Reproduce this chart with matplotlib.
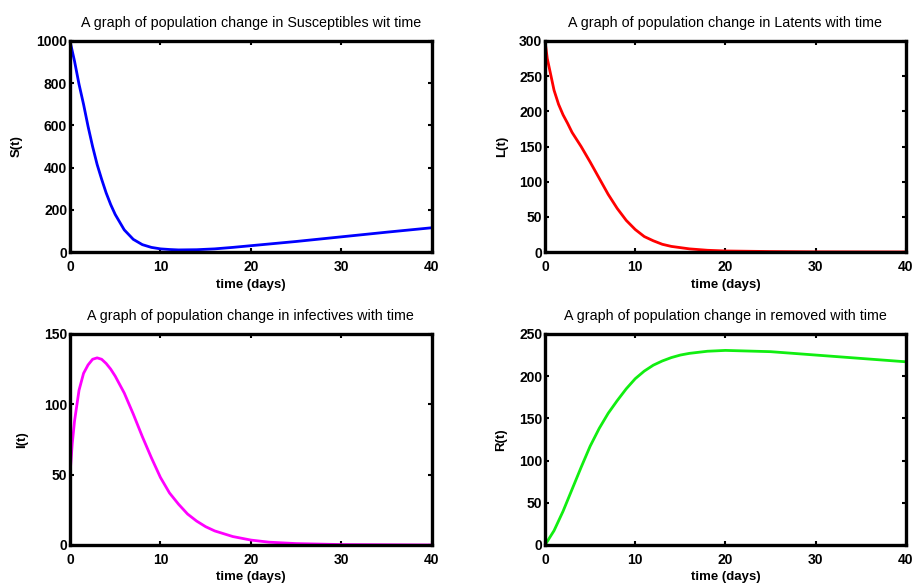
import matplotlib.pyplot as plt

plt.rcParams['font.family'] = ['Liberation Sans', 'DejaVu Sans']

# values
t_s = [0, 0.5, 1, 1.5, 2, 2.5, 3, 3.5, 4, 4.5, 5, 6, 7, 8, 9, 10, 11, 12, 14, 16, 18, 20, 25, 30, 35, 40]
s_vals = [1000, 905, 795, 700, 595, 500, 415, 345, 280, 225, 178, 105, 60, 35, 22, 15, 12, 10, 11, 15, 22, 30, 50, 72, 94, 115]

t_l = [0, 0.25, 0.5, 1, 1.5, 2, 2.5, 3, 4, 5, 6, 7, 8, 9, 10, 11, 12, 13, 14, 16, 18, 20, 25, 30, 40]
l_vals = [300, 275, 260, 230, 210, 195, 183, 170, 150, 128, 105, 82, 62, 45, 32, 22, 16, 11, 8, 4.5, 2.5, 1.5, 0.7, 0.3, 0.1]

t_i = [0, 0.25, 0.5, 1, 1.5, 2, 2.5, 3, 3.5, 4, 4.5, 5, 6, 7, 8, 9, 10, 11, 12, 13, 14, 15, 16, 18, 20, 22, 25, 30, 40]
i_vals = [50, 72, 88, 110, 122, 128, 132, 133, 132, 129, 125, 120, 108, 93, 77, 62, 48, 37, 29, 22, 17, 13, 10, 6, 3.5, 2, 1, 0.3, 0]

t_r = [0, 1, 2, 3, 4, 5, 6, 7, 8, 9, 10, 11, 12, 13, 14, 15, 16, 18, 20, 25, 30, 35, 40]
r_vals = [0, 17, 40, 66, 92, 117, 138, 156, 171, 185, 197, 206, 213, 218, 222, 225, 227, 229.5, 230.5, 229, 225, 221, 217]

panels = [
    (t_s, s_vals, 'blue', 'S(t)', 'A graph of population change in Susceptibles wit time', 1000, range(0, 1001, 200), -0.130),
    (t_l, l_vals, 'red', 'L(t)', 'A graph of population change in Latents with time', 300, range(0, 301, 50), -0.102),
    (t_i, i_vals, 'magenta', 'I(t)', 'A graph of population change in infectives with time', 150, range(0, 151, 50), -0.116),
    (t_r, r_vals, '#11ee11', 'R(t)', 'A graph of population change in removed with time', 250, range(0, 251, 50), -0.105),
]

# axes boxes in figure fractions
boxes = [
    [0.0764, 0.5677, 0.395, 0.362],
    [0.595, 0.5677, 0.394, 0.362],
    [0.0764, 0.0652, 0.395, 0.362],
    [0.595, 0.0652, 0.394, 0.362],
]

fig = plt.figure(figsize=(9.16, 5.83), dpi=100)

for (t, v, col, ylab, title, ymax, yt, ylx), box in zip(panels, boxes):
    ax = fig.add_axes(box)
    ax.plot(t, v, color=col, linewidth=2)
    ax.set_xlim(0, 40)
    ax.set_ylim(0, ymax)
    ax.set_xticks([0, 10, 20, 30, 40])
    ax.set_yticks(list(yt))
    ax.tick_params(direction='in', top=True, right=True, length=3, width=1.5,
                   labelsize=10)
    ax.tick_params(axis='x', pad=6)
    ax.tick_params(axis='y', pad=2)
    for lab in ax.get_xticklabels() + ax.get_yticklabels():
        lab.set_fontweight('bold')
    for sp in ax.spines.values():
        sp.set_linewidth(2.4)
    ax.set_title(title, fontsize=10.3, pad=10)
    ax.set_xlabel('time (days)', fontsize=9.5, fontweight='bold', labelpad=3)
    ax.set_ylabel(ylab, fontsize=9.5, fontweight='bold')
    ax.yaxis.set_label_coords(ylx, 0.5)

fig.savefig('out.png', dpi=100)
